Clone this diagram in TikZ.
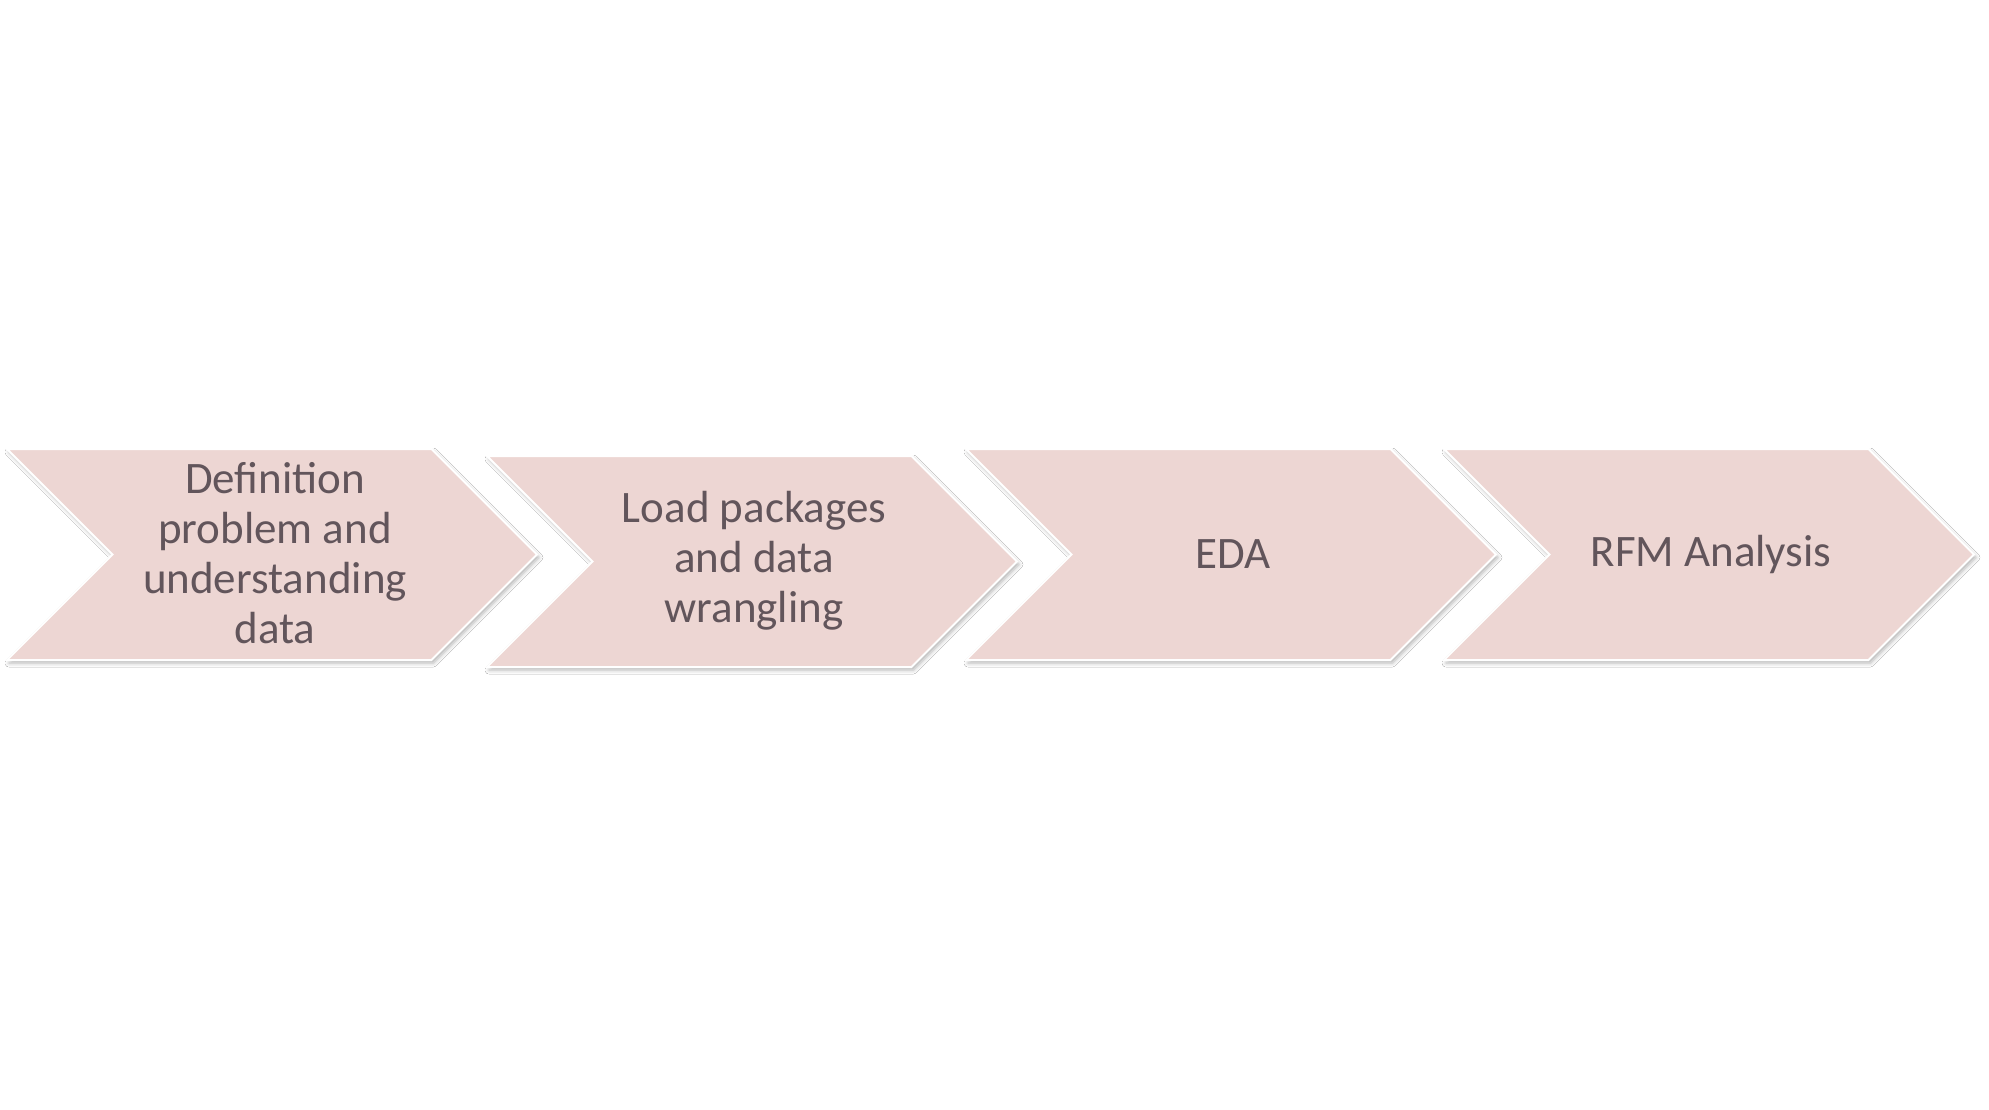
\documentclass[tikz,border=0pt]{standalone}
\usepackage{fontspec}
\setmainfont{Carlito}
\usetikzlibrary{shadows.blur}
\definecolor{chevfill}{RGB}{237,214,211}
\definecolor{chevtext}{RGB}{98,85,91}
\tikzset{
  chevron/.style={fill=chevfill, draw=white, line width=2pt, line join=miter,
    blur shadow={shadow xshift=2pt, shadow yshift=-3pt, shadow blur radius=4pt, shadow opacity=30}},
  chevlabel/.style={text=chevtext, align=center, inner sep=0pt,
    font=\fontsize{45}{50}\selectfont}
}
\newcommand{\chevshape}[2]{% #1 left x, #2 top y
  \path[chevron] (#1,#2) -- ++(424.5,0) -- ++(105.5,105.5) -- ++(-105.5,105.5)
    -- ++(-424.5,0) -- ++(105.5,-105.5) -- cycle;}
\begin{document}
\begin{tikzpicture}[x=1pt,y=-1pt]
\useasboundingbox[fill=white] (0,0) rectangle (1989,1110);
\chevshape{7}{449}
\chevshape{487}{456}
\chevshape{966}{449}
\chevshape{1444}{449}
\node[chevlabel] (s1) at (275,553.5) {Definition\\problem and\\understanding\\data};
\node[chevlabel] (s2) at (754,561) {Load packages\\and data\\wrangling};
\node[chevlabel] (s3) at (1233,554.5) {EDA};
\node[chevlabel] (s4) at (1711,554.5) {RFM Analysis};
\end{tikzpicture}
\end{document}
